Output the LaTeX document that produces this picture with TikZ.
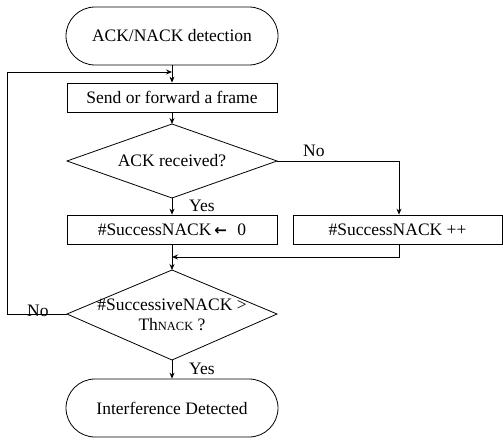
\documentclass[tikz,border=0pt]{standalone}
\usepackage{fontspec}
\setmainfont{Liberation Serif}
\newfontfamily\arrowfont{DejaVu Sans}
\usetikzlibrary{arrows.meta}
\begin{document}
\begin{tikzpicture}[x=1pt,y=-1pt,
  every node/.style={font=\fontsize{17.5pt}{20pt}\selectfont, inner sep=0pt},
  term/.style={draw, line width=0.8pt, rounded corners=29pt, minimum width=212pt, minimum height=58pt},
  boxnode/.style={draw, line width=0.8pt, minimum width=210pt, minimum height=29pt},
  conn/.style={line width=0.8pt, -{Stealth[length=6pt,width=5pt]}},
  plain/.style={line width=0.8pt},
  lbl/.style={font=\fontsize{17.5pt}{20pt}\selectfont}]
\useasboundingbox (0,0) rectangle (503,439);
\node[term] (start) at (172,36) {ACK/NACK detection};
\node[boxnode] (send) at (172,97.5) {Send or forward a frame};
\draw[plain] (172,124) coordinate (d1t) -- (277,161) coordinate (d1r) -- (172,198) coordinate (d1b) -- (67,161) coordinate (d1l) -- cycle;
\node (d1) at (172,161) {ACK received?};
\node[boxnode] (b1) at (172,229.5) {\#SuccessNACK\,{\arrowfont\fontsize{15pt}{15pt}\selectfont\bfseries ←}\hspace{0.6em}0};
\node[boxnode, minimum width=209pt] (b2) at (397.5,229.5) {\#SuccessNACK ++};
\draw[plain] (172,270) coordinate (d2t) -- (277,314) coordinate (d2r) -- (172,360) coordinate (d2b) -- (67,314) coordinate (d2l) -- cycle;
\node[align=center] (d2) at (172,315) {\#SuccessiveNACK >\\Th{\fontsize{12.5pt}{14pt}\selectfont NACK} ?};
\node[term] (end) at (172,408) {Interference Detected};
\coordinate (join1) at (172,72);
\coordinate (join2) at (172,257);
\coordinate (loopb) at (7,314);
\coordinate (loopt) at (7,72);
\coordinate (nocorner) at (399,161);
\coordinate (b2down) at (399,257);
\draw[plain] (start.south) -- (join1);
\draw[conn] (join1) -- (send.north);
\draw[conn] (loopb -| d2l) -- (loopb) -- (loopt) -- (join1);
\draw[conn] (send.south) -- (d1t);
\draw[conn] (d1b) -- (b1.north);
\draw[conn] (d1r) -- (nocorner) -- (nocorner |- b2.north);
\draw[plain] (b1.south) -- (join2);
\draw[conn] (join2) -- (d2t);
\draw[conn] (b2down |- b2.south) -- (b2down) -- (join2);
\draw[conn] (d2b) -- (end.north);
\node[lbl, anchor=west] (yes1) at (189,206) {Yes};
\node[lbl, anchor=west] (no1) at (303,151) {No};
\node[lbl, anchor=west] (no2) at (27,311) {No};
\node[lbl, anchor=west] (yes2) at (189,369) {Yes};
\end{tikzpicture}
\end{document}
